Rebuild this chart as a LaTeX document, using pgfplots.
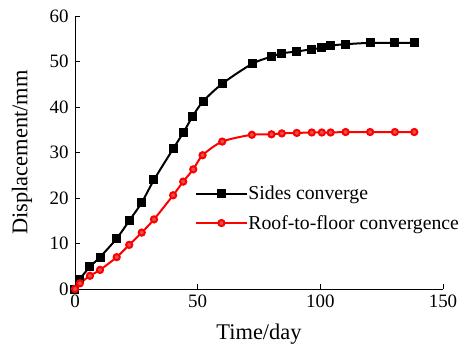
\documentclass[border=0pt]{standalone}
\usepackage{fontspec}
\setmainfont{Liberation Serif}
\usepackage{pgfplots}
\pgfplotsset{compat=1.18}
\definecolor{redfill}{RGB}{222,82,82}
\begin{document}
\begin{tikzpicture}
\useasboundingbox (-75bp,-58bp) rectangle (395bp,289bp);
\begin{axis}[
  at={(0,0)}, anchor=south west,
  scale only axis,
  width=368bp, height=273bp,
  xmin=0, xmax=150, ymin=0, ymax=60,
  xtick={0,50,100,150}, ytick={0,10,20,30,40,50,60},
  axis lines=left,
  axis line style={-, line width=1pt},
  tick align=inside,
  major tick length=5bp,
  tick style={line width=1pt, black},
  /pgf/number format/assume math mode=true,
  ticklabel style={font=\fontsize{19}{22}\selectfont},
  xticklabel style={yshift=-2bp},
  yticklabel style={xshift=-3bp},
  xlabel={Time/day}, ylabel={Displacement/mm},
  label style={font=\fontsize{22.5}{26}\selectfont},
  xlabel style={at={(axis description cs:0.5,-0.1650)}, anchor=center},
  ylabel style={at={(axis description cs:-0.1440,0.5)}, anchor=center},
  legend style={draw=none, fill=none, at={(axis cs:47.8,17.7)}, anchor=west,
    font=\fontsize{19.8}{23}\selectfont, row sep=12bp,
    nodes={inner sep=1bp}},
  legend cell align=left,
  legend image code/.code={\draw[#1,mark repeat=2,mark phase=2] plot coordinates {(0bp,0bp) (25bp,0bp) (50bp,0bp)};},
  clip=false,
]
\addplot[black, line width=2bp, smooth, tension=0.45, mark=square*, mark size=3.5bp, mark options={solid, fill=black}] coordinates {
(0,0) (1.75,2.0) (6.1,4.9) (10.2,7.0) (17,11.1) (22.1,15.0) (27.2,19.0) (32.2,24.0)
(40.1,30.9) (44.2,34.4) (48,38.0) (52.3,41.3) (60.2,45.2) (72.2,49.5) (80.2,51.1)
(84.3,51.8) (90.4,52.2) (96.5,52.7) (100.6,53.0) (104.2,53.5) (110.3,53.8) (120.3,54.1)
(130.4,54.1) (138.3,54.1)};
\addlegendentry{Sides converge}
\addplot[red, line width=2bp, smooth, tension=0.45, mark=*, mark size=3.1bp, mark options={solid, fill=redfill, draw=red}] coordinates {
(0,0) (2.0,1.25) (6.1,2.9) (10.2,4.2) (17,7.0) (22.1,9.7) (27.2,12.4) (32.2,15.3)
(40.0,20.6) (44.1,23.6) (48.2,26.3) (52.0,29.4) (60,32.4) (72.1,33.9) (80.1,34.0)
(84.3,34.2) (90.4,34.3) (96.5,34.4) (100.6,34.4) (104.2,34.4) (110.3,34.5) (120.3,34.5)
(130.4,34.5) (138.3,34.5)};
\addlegendentry{Roof-to-floor convergence}
\end{axis}
\end{tikzpicture}
\end{document}
